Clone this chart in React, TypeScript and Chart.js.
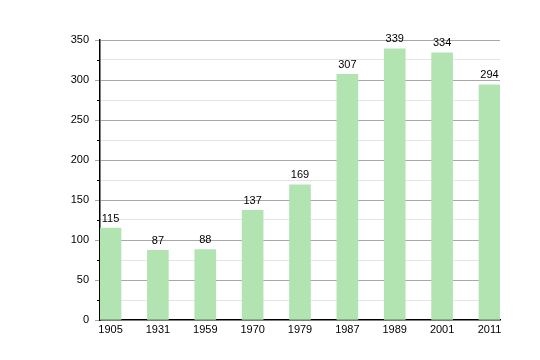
import React, { useEffect, useRef } from "react";
import { Chart, registerables } from "chart.js";

Chart.register(...registerables);

const categories = ["1905", "1931", "1959", "1970", "1979", "1987", "1989", "2001", "2011"];
const values = [115, 87, 88, 137, 169, 307, 339, 334, 294];
const yMax = 350;
const yStep = 25;

const FONT = "'Liberation Sans', Arial, sans-serif";

export default function App() {
  const ref = useRef<HTMLCanvasElement | null>(null);

  useEffect(() => {
    if (!ref.current) return;
    const labelPlugin = {
      id: "barLabels",
      afterDatasetsDraw(chart: any) {
        const ctx = chart.ctx;
        const meta = chart.getDatasetMeta(0);
        ctx.save();
        ctx.font = `11px ${FONT}`;
        ctx.fillStyle = "#000";
        ctx.textAlign = "center";
        ctx.textBaseline = "bottom";
        meta.data.forEach((el: any, i: number) => {
          ctx.fillText(String(values[i]), el.x, el.y - 4);
        });
        ctx.restore();
      },
    };
    const minorTickPlugin = {
      id: "minorTicks",
      afterDraw(chart: any) {
        const ctx = chart.ctx;
        const ys = chart.scales.y;
        const left = chart.chartArea.left;
        ctx.save();
        ctx.strokeStyle = "#000";
        ctx.lineWidth = 1;
        for (let v = yStep; v < yMax; v += 2 * yStep) {
          const py = Math.round(ys.getPixelForValue(v)) + 0.5;
          ctx.beginPath();
          ctx.moveTo(left - 3, py);
          ctx.lineTo(left, py);
          ctx.stroke();
        }
        ctx.restore();
      },
    };

    const n = categories.length;
    const pad = 0.222;
    const chart = new Chart(ref.current, {
      type: "bar",
      data: {
        datasets: [
          {
            data: values.map((v, i) => ({ x: i, y: v })),
            backgroundColor: "#b2e4b2",
            borderWidth: 0,
            barThickness: 21,
          },
        ],
      },
      options: {
        animation: false,
        responsive: false,
        layout: { padding: { left: 0, right: 40, top: 40, bottom: 0 } },
        plugins: { legend: { display: false }, tooltip: { enabled: false } },
        scales: {
          x: {
            type: "linear",
            offset: false,
            min: -pad,
            max: n - 1 + pad,
            afterFit(s: any) {
              s.height = 40;
            },
            grid: { display: false, offset: false, drawTicks: false, tickLength: 0 },
            border: { display: true, color: "#000", width: 1.5 },
            ticks: {
              stepSize: 1,
              includeBounds: false,
              autoSkip: false,
              maxRotation: 0,
              padding: 3,
              color: "#000",
              font: { family: FONT, size: 11 },
              callback: (v: any) => {
                const i = Number(v);
                return Number.isInteger(i) && categories[i] !== undefined ? categories[i] : "";
              },
            },
          },
          y: {
            min: 0,
            max: yMax,
            afterFit(s: any) {
              s.width = 100;
            },
            border: { display: true, color: "#000", width: 1.5 },
            grid: {
              drawTicks: true,
              tickLength: 5,
              color: (c: any) => {
                const v = c.tick ? c.tick.value : 0;
                if (v === 0) return "rgba(0,0,0,0)";
                return v % 50 === 0 ? "#a8a8a8" : "#e4e4e4";
              },
              tickColor: (c: any) => {
                const v = c.tick ? c.tick.value : 0;
                return v % 50 === 0 ? "#a8a8a8" : "rgba(0,0,0,0)";
              },
            },
            ticks: {
              stepSize: yStep,
              padding: 6,
              color: "#000",
              font: { family: FONT, size: 11 },
              callback: (v: any) => (Number(v) % 50 === 0 ? String(v) : ""),
            },
          },
        },
      },
      plugins: [labelPlugin, minorTickPlugin],
    });
    return () => chart.destroy();
  }, []);

  return (
    <div style={{ position: "fixed", left: 0, top: 0, width: 540, height: 360, background: "#fff" }}>
      <canvas ref={ref} width={540} height={360} style={{ width: 540, height: 360 }} />
    </div>
  );
}
